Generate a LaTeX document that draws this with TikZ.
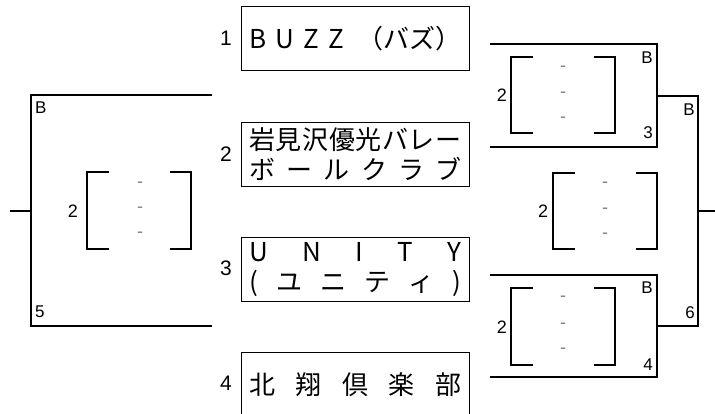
\documentclass[tikz,border=0pt]{standalone}
\usepackage{fontspec}
\setmainfont{Noto Sans CJK JP}
\newfontfamily\lat{Liberation Sans}
\newcommand\scbr[4]{%
  \draw[line] ({#1+22},{#3}) -- ({#1},{#3}) -- ({#1},{#4}) -- ({#1+22},{#4});
  \draw[line] ({#2-21},{#3}) -- ({#2},{#3}) -- ({#2},{#4}) -- ({#2-21},{#4});}
\newcommand\spread[1]{\makebox[212pt][s]{#1}}
\begin{document}
\begin{tikzpicture}[x=1pt,y=-1pt,
  line/.style={line width=2pt},
  team/.style={draw,line width=0.9pt,minimum width=228pt,minimum height=64pt,
    inner sep=0pt,anchor=north west,font=\fontsize{26}{30}\selectfont,align=center},
  seed/.style={font=\lat\fontsize{21}{21}\selectfont,inner sep=0pt},
  lab/.style={font=\lat\fontsize{17}{17}\selectfont,inner sep=0pt},
  sc/.style={font=\lat\fontsize{18}{18}\selectfont,inner sep=0pt},
  dsh/.style={font=\lat\fontsize{18}{18}\selectfont,text=gray,inner sep=0pt}]
\useasboundingbox (0,0) rectangle (715,414);

% team boxes
\node[team] (t1) at (241,6) {\spread{B\hfill U\hfill Z\hfill Z\hfill\hspace{4pt}（バズ）}};
\node[team] (t2) at (241,122) {\spread{岩\hfill 見\hfill 沢\hfill 優\hfill 光\hfill バ\hfill レ\hfill ー}\\
  \spread{ボ\hfill ー\hfill ル\hfill ク\hfill ラ\hfill ブ}};
\node[team] (t3) at (241,237) {\spread{U\hfill N\hfill I\hfill T\hfill Y}\\
  \spread{(\hfill ユ\hfill ニ\hfill テ\hfill ィ\hfill )}};
\node[team] (t4) at (241,352) {\spread{北\hfill 翔\hfill 倶\hfill 楽\hfill 部}};
\node[seed] (n1) at (226,38) {1};
\node[seed] (n2) at (226,154) {2};
\node[seed] (n3) at (226,268) {3};
\node[seed] (n4) at (226,383) {4};

% left bracket
\coordinate (L1) at (212,95); \coordinate (Lc1) at (31,95);
\coordinate (L2) at (212,326); \coordinate (Lc2) at (31,326);
\coordinate (Lm) at (31,211); \coordinate (Lout) at (10,211);
\draw[line] (L1) -- (Lc1) -- (Lc2) -- (L2);
\draw[line] (Lm) -- (Lout);
\node[lab,anchor=west] (lB) at (35,108) {B};
\node[lab,anchor=west] (l5) at (35,312) {5};
\scbr{87}{191}{172}{249}
\node[sc] (ls) at (73,211) {2};
\node[dsh] (ld1) at (140,185) {-};
\node[dsh] (ld2) at (140,210) {-};
\node[dsh] (ld3) at (140,235) {-};

% right bracket A
\coordinate (RA1) at (490,44); \coordinate (RAc1) at (657,44);
\coordinate (RAc2) at (657,147); \coordinate (RA2) at (490,147);
\coordinate (RAm) at (657,96);
\draw[line] (RA1) -- (RAc1) -- (RAc2) -- (RA2);
\node[lab,anchor=east] (aB) at (653,58) {B};
\node[lab,anchor=east] (a3) at (653,133) {3};
\scbr{511}{615}{57}{133}
\node[sc] (as) at (502,95) {2};
\node[dsh] (ad1) at (563,69) {-};
\node[dsh] (ad2) at (563,95) {-};
\node[dsh] (ad3) at (563,120) {-};

% right bracket B
\coordinate (RB1) at (490,275); \coordinate (RBc1) at (657,275);
\coordinate (RBc2) at (657,377); \coordinate (RB2) at (490,377);
\coordinate (RBm) at (657,326);
\draw[line] (RB1) -- (RBc1) -- (RBc2) -- (RB2);
\node[lab,anchor=east] (bB) at (653,288) {B};
\node[lab,anchor=east] (b4) at (653,365) {4};
\scbr{511}{615}{288}{365}
\node[sc] (bs) at (502,327) {2};
\node[dsh] (bd1) at (563,299) {-};
\node[dsh] (bd2) at (563,326) {-};
\node[dsh] (bd3) at (563,351) {-};

% final right bracket
\coordinate (Fc1) at (698,96); \coordinate (Fc2) at (698,326);
\coordinate (Fm) at (698,211); \coordinate (Fout) at (715,211);
\draw[line] (RAm) -- (Fc1) -- (Fc2) -- (RBm);
\draw[line] (Fm) -- (Fout);
\node[lab,anchor=east] (fB) at (695,110) {B};
\node[lab,anchor=east] (f6) at (695,313) {6};
\scbr{553}{657}{173}{249}
\node[sc] (ms) at (543,211) {2};
\node[dsh] (md1) at (605,185) {-};
\node[dsh] (md2) at (605,211) {-};
\node[dsh] (md3) at (605,236) {-};
\end{tikzpicture}
\end{document}
